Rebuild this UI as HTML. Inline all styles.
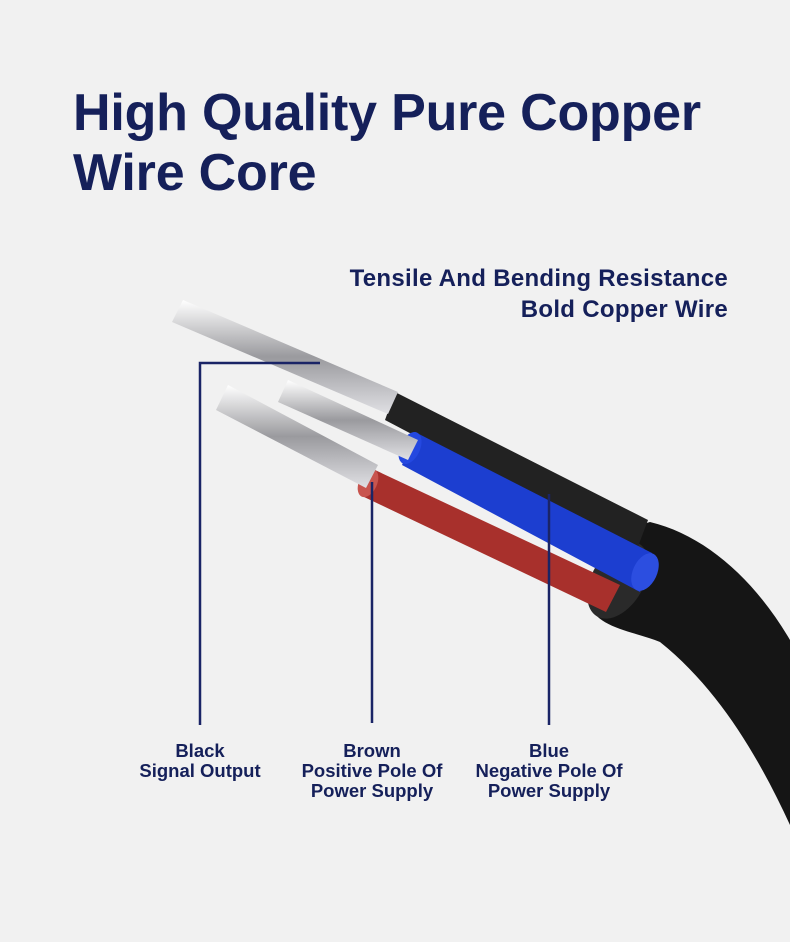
<!DOCTYPE html>
<html><head><meta charset="utf-8"><style>
body{margin:0;width:790px;height:942px;background:#f1f1f1;overflow:hidden;position:relative;font-family:"Liberation Sans",sans-serif;color:#15205a}
.t{position:absolute;left:73px;top:83px;font-size:52px;font-weight:bold;line-height:60px;letter-spacing:-0.2px}
.s{position:absolute;right:62px;top:263px;font-size:24px;font-weight:bold;line-height:31px;text-align:right;letter-spacing:0.3px}
.l{position:absolute;top:741px;font-size:18.5px;font-weight:bold;line-height:20px;text-align:center;width:220px}
</style></head><body>
<svg width="790" height="942" style="position:absolute;left:0;top:0">
<defs>
<linearGradient id="ag" x1="0" y1="0" x2="0" y2="1"><stop offset="0" stop-color="#fff"/><stop offset=".5" stop-color="#9a9a9e"/><stop offset="1" stop-color="#e0e0e4"/></linearGradient>
</defs>
<path d="M588,600 C596,560 620,530 650,522 C705,535 755,580 790,640 L790,825 C760,760 720,690 660,642 C630,630 594,628 588,600 Z" fill="#151515"/>
<ellipse cx="618" cy="580" rx="26" ry="42" transform="rotate(30 618 580)" fill="#2a2a2a"/>
<path d="M395,392 L648,520 L636,552 L385,420 Z" fill="#222"/>
<path d="M375,470 L620,585 L606,612 L362,496 Z" fill="#a8302c"/>
<ellipse cx="368" cy="483" rx="9" ry="15" transform="rotate(25 368 483)" fill="#c8544e"/>
<path d="M415,432 L652,553 L640,592 L402,465 Z" fill="#1c3ed0"/>
<ellipse cx="645" cy="572" rx="12" ry="20" transform="rotate(25 645 572)" fill="#2c4ee0"/>
<ellipse cx="410" cy="448" rx="10" ry="17" transform="rotate(25 410 448)" fill="#2448e0"/>
<path d="M183,300 L398,392 L388,414 L172,322 Z" fill="url(#ag)"/>
<path d="M288,380 L418,440 L408,460 L278,402 Z" fill="url(#ag)"/>
<path d="M228,385 L378,465 L366,488 L216,410 Z" fill="url(#ag)"/>
<g stroke="#1a2466" stroke-width="2.5" fill="none">
<path d="M320,363 H200 V725"/>
<path d="M372,482 V723"/>
<path d="M549,494 V725"/>
</g>
</svg>
<div class="t">High Quality Pure Copper<br>Wire Core</div>
<div class="s">Tensile And Bending Resistance<br>Bold Copper Wire</div>
<div class="l" style="left:90px">Black<br>Signal Output</div>
<div class="l" style="left:262px">Brown<br>Positive Pole Of<br>Power Supply</div>
<div class="l" style="left:439px">Blue<br>Negative Pole Of<br>Power Supply</div>
</body></html>
